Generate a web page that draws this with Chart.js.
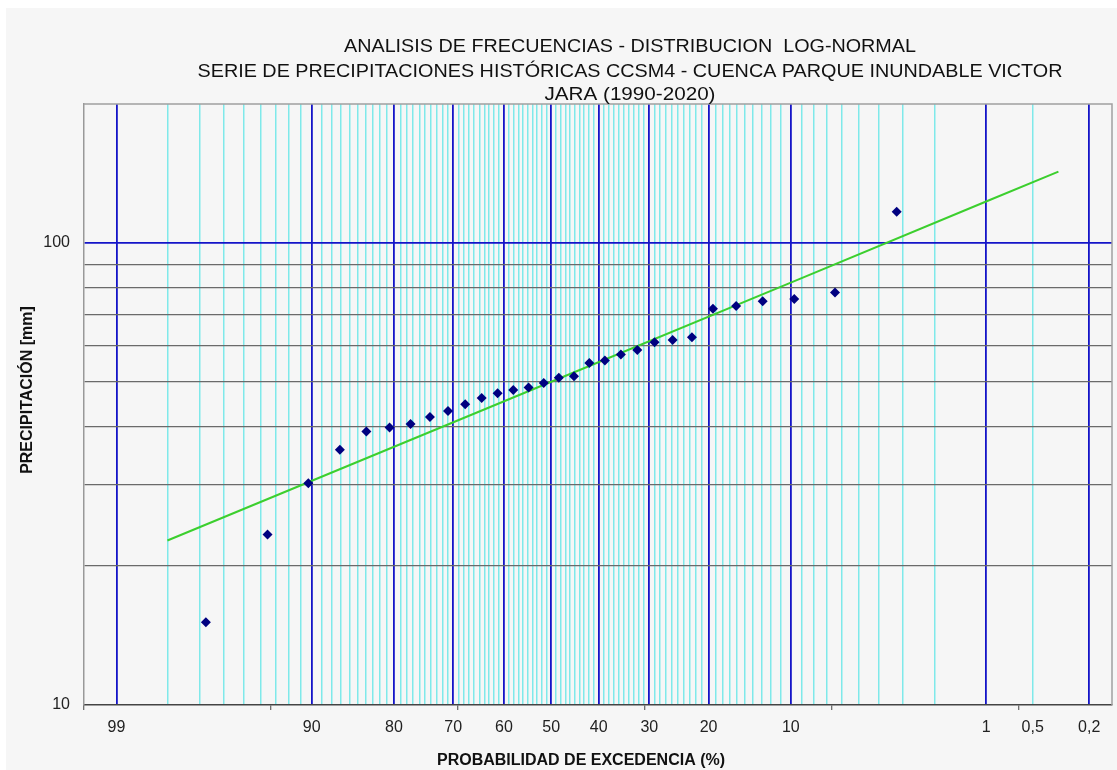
<!DOCTYPE html>
<html>
<head>
<meta charset="utf-8">
<script src="https://cdn.jsdelivr.net/npm/chart.js@4"></script>
<style>
  html, body { margin: 0; padding: 0; background: #fff; }
  #wrap { width: 1117px; height: 770px; }
</style>
</head>
<body>
<div id="wrap"><canvas id="chart" width="1117" height="770"></canvas></div>
<script>
// ── Data ──
// plotting positions (exceedance %, Weibull m/(n+1), n = 30)
const obsProbs = [96.77, 93.55, 90.32, 87.10, 83.87, 80.65, 77.42, 74.19, 70.97, 67.74,
                  64.52, 61.29, 58.06, 54.84, 51.61, 48.39, 45.16, 41.94, 38.71, 35.48,
                  32.26, 29.03, 25.81, 22.58, 19.35, 16.13, 12.90, 9.68, 6.45, 3.23];
// precipitation [mm], sorted ascending
const obsValues = [15.1, 23.4, 30.2, 35.7, 39.1, 39.9, 40.6, 42.0, 43.3, 44.8,
                   46.2, 47.3, 48.1, 48.7, 49.8, 51.1, 51.5, 55.0, 55.7, 57.4,
                   58.7, 61.0, 61.7, 62.5, 72.1, 73.1, 74.8, 75.7, 78.2, 116.9];
// fitted log-normal line
const fitProbs = [98, 50, 10, 1, 0.333];
const fitValues = [22.7, 50.1, 82.1, 123.0, 142.8];

// axis labels
const xLabelProbs = [99, 90, 80, 70, 60, 50, 40, 30, 20, 10, 1, 0.5, 0.2];
const xLabelTexts = ['99', '90', '80', '70', '60', '50', '40', '30', '20', '10', '1', '0,5', '0,2'];
const xMajorProbs = [99, 90, 80, 70, 60, 50, 40, 30, 20, 10, 1, 0.2];
const xTickMarks = [-2.5, -1.5, -0.5, 0.5, 1.5, 2.5];
const yGridValues = [10, 20, 30, 40, 50, 60, 70, 80, 90, 100, 200];
const yLabelValues = [10, 100];

const titleLines = [
    'ANALISIS DE FRECUENCIAS - DISTRIBUCION  LOG-NORMAL',
    'SERIE DE PRECIPITACIONES HISTÓRICAS CCSM4 - CUENCA PARQUE INUNDABLE VICTOR',
    'JARA (1990-2020)',
];

// ── Helpers ──
// inverse standard normal CDF (Acklam)
function normInv(p) {
    const a = [-3.969683028665376e+01, 2.209460984245205e+02, -2.759285104469687e+02, 1.383577518672690e+02, -3.066479806614716e+01, 2.506628277459239e+00];
    const b = [-5.447609879822406e+01, 1.615858368580409e+02, -1.556989798598866e+02, 6.680131188771972e+01, -1.328068155288572e+01];
    const c = [-7.784894002430293e-03, -3.223964580411365e-01, -2.400758277161838e+00, -2.549732539343734e+00, 4.374664141464968e+00, 2.938163982698783e+00];
    const d = [7.784695709041462e-03, 3.224671290700398e-01, 2.445134137142996e+00, 3.754408661907416e+00];
    const pl = 0.02425;
    let q, r;
    if (p < pl) {
        q = Math.sqrt(-2 * Math.log(p));
        return (((((c[0] * q + c[1]) * q + c[2]) * q + c[3]) * q + c[4]) * q + c[5]) /
               ((((d[0] * q + d[1]) * q + d[2]) * q + d[3]) * q + 1);
    }
    if (p > 1 - pl) {
        q = Math.sqrt(-2 * Math.log(1 - p));
        return -(((((c[0] * q + c[1]) * q + c[2]) * q + c[3]) * q + c[4]) * q + c[5]) /
                ((((d[0] * q + d[1]) * q + d[2]) * q + d[3]) * q + 1);
    }
    q = p - 0.5;
    r = q * q;
    return (((((a[0] * r + a[1]) * r + a[2]) * r + a[3]) * r + a[4]) * r + a[5]) * q /
           (((((b[0] * r + b[1]) * r + b[2]) * r + b[3]) * r + b[4]) * r + 1);
}

// exceedance % -> position on the probability axis
const toZ = (p) => normInv(1 - p / 100);

const toPoints = (probs, vals) => probs.map((p, i) => ({ x: toZ(p), y: vals[i] }));

// x-axis ticks: gridlines (major / minor), tick marks and labels
function buildXTicks() {
    const list = [];
    xMajorProbs.forEach(p => list.push({ value: toZ(p), kind: 'major' }));
    for (let k = 2; k <= 98; k++) {
        if (k % 10 !== 0) list.push({ value: toZ(k), kind: 'minor' });
    }
    list.push({ value: toZ(0.5), kind: 'minor' });
    xTickMarks.forEach(z => list.push({ value: z, kind: 'mark' }));
    xLabelProbs.forEach((p, i) => {
        const z = toZ(p);
        const hit = list.find(t => t.kind !== 'mark' && Math.abs(t.value - z) < 1e-9);
        if (hit) hit.label = xLabelTexts[i];
    });
    return list.sort((a, b) => a.value - b.value);
}

// ── Plugins ──
const backdrop = {
    id: 'backdrop',
    beforeDraw(chart) {
        const { ctx, width, height } = chart;
        ctx.save();
        ctx.fillStyle = '#ffffff';
        ctx.fillRect(0, 0, width, height);
        ctx.fillStyle = '#f6f6f6';
        ctx.fillRect(6, 8, width - 6, height - 8);
        ctx.restore();
    },
    beforeDatasetsDraw(chart) {
        const { ctx, chartArea: a } = chart;
        ctx.save();
        ctx.strokeStyle = '#a0a0a0';
        ctx.lineWidth = 1.5;
        ctx.beginPath();
        ctx.moveTo(a.left, a.top);
        ctx.lineTo(a.right, a.top);
        ctx.lineTo(a.right, a.bottom);
        ctx.stroke();
        ctx.restore();
    },
};

const titles = {
    id: 'titles',
    afterDraw(chart) {
        const { ctx } = chart;
        ctx.save();
        ctx.fillStyle = '#111';
        ctx.textAlign = 'center';
        ctx.textBaseline = 'middle';

        // main title, squeezed to the widths in the reference
        const widths = [572, 865, 171];
        const ys = [47, 72, 95];
        ctx.font = '19px "Liberation Sans", Arial, sans-serif';
        titleLines.forEach((t, i) => {
            const w = ctx.measureText(t).width;
            ctx.save();
            ctx.translate(630, ys[i]);
            ctx.scale(widths[i] / w, 1);
            ctx.fillText(t, 0, 0);
            ctx.restore();
        });

        ctx.font = 'bold 16px "Liberation Sans", Arial, sans-serif';
        ctx.fillText('PROBABILIDAD DE EXCEDENCIA (%)', 581, 761);

        ctx.save();
        ctx.translate(28, 390);
        ctx.rotate(-Math.PI / 2);
        ctx.fillText('PRECIPITACIÓN [mm]', 0, 0);
        ctx.restore();

        ctx.restore();
    },
};

// ── Chart ──
new Chart(document.getElementById('chart'), {
    type: 'scatter',
    data: {
        datasets: [
            {
                label: 'Precipitación',
                data: toPoints(obsProbs, obsValues),
                pointStyle: 'rectRot',
                pointRadius: 5,
                pointHoverRadius: 5,
                backgroundColor: '#000080',
                borderColor: '#000080',
                borderWidth: 0,
                showLine: false,
            },
            {
                label: 'Log-Normal',
                data: toPoints(fitProbs, fitValues),
                showLine: true,
                borderColor: '#3ccf2e',
                borderWidth: 2,
                pointRadius: 0,
                fill: false,
            },
        ],
    },
    options: {
        responsive: false,
        animation: false,
        layout: { padding: { top: 104, right: 4, left: 0, bottom: 0 } },
        plugins: {
            legend: { display: false },
            title: { display: false },
            tooltip: { enabled: false },
        },
        scales: {
            x: {
                type: 'linear',
                min: -2.5,
                max: 3.0,
                afterBuildTicks: (scale) => { scale.ticks = buildXTicks(); },
                afterFit: (scale) => { scale.height = 65; },
                border: { color: '#444', width: 1.5 },
                grid: {
                    drawTicks: true,
                    tickLength: 5,
                    color: (ctx) => {
                        const k = ctx.tick && ctx.tick.kind;
                        if (k === 'major') return '#1414c8';
                        if (k === 'minor') return '#7fe9ea';
                        return 'rgba(0,0,0,0)';
                    },
                    lineWidth: (ctx) => (ctx.tick && ctx.tick.kind === 'major' ? 1.8 : 1.5),
                    tickColor: (ctx) => (ctx.tick && ctx.tick.kind === 'mark' ? '#444' : 'rgba(0,0,0,0)'),
                    tickWidth: 1,
                },
                ticks: {
                    autoSkip: false,
                    maxRotation: 0,
                    minRotation: 0,
                    padding: 8,
                    color: '#222',
                    font: { family: '"Liberation Sans", Arial, sans-serif', size: 16 },
                    callback: (value, index, ticks) => ticks[index].label || '',
                },
            },
            y: {
                type: 'logarithmic',
                min: 10,
                max: 200,
                afterBuildTicks: (scale) => {
                    scale.ticks = yGridValues.map(v => ({ value: v }));
                },
                afterFit: (scale) => { scale.width = 84; },
                border: { color: '#999', width: 1.5 },
                grid: {
                    drawTicks: false,
                    color: (ctx) => {
                        const v = ctx.tick && ctx.tick.value;
                        if (v === 100) return '#1414c8';
                        if (v === 10 || v === 200) return 'rgba(0,0,0,0)';
                        return '#6a6a6a';
                    },
                    lineWidth: (ctx) => (ctx.tick && ctx.tick.value === 100 ? 1.8 : 1.3),
                },
                ticks: {
                    autoSkip: false,
                    padding: 14,
                    color: '#222',
                    font: { family: '"Liberation Sans", Arial, sans-serif', size: 16 },
                    callback: (value) => (yLabelValues.includes(value) ? String(value) : ''),
                },
            },
        },
    },
    plugins: [backdrop, titles],
});
</script>
</body>
</html>
